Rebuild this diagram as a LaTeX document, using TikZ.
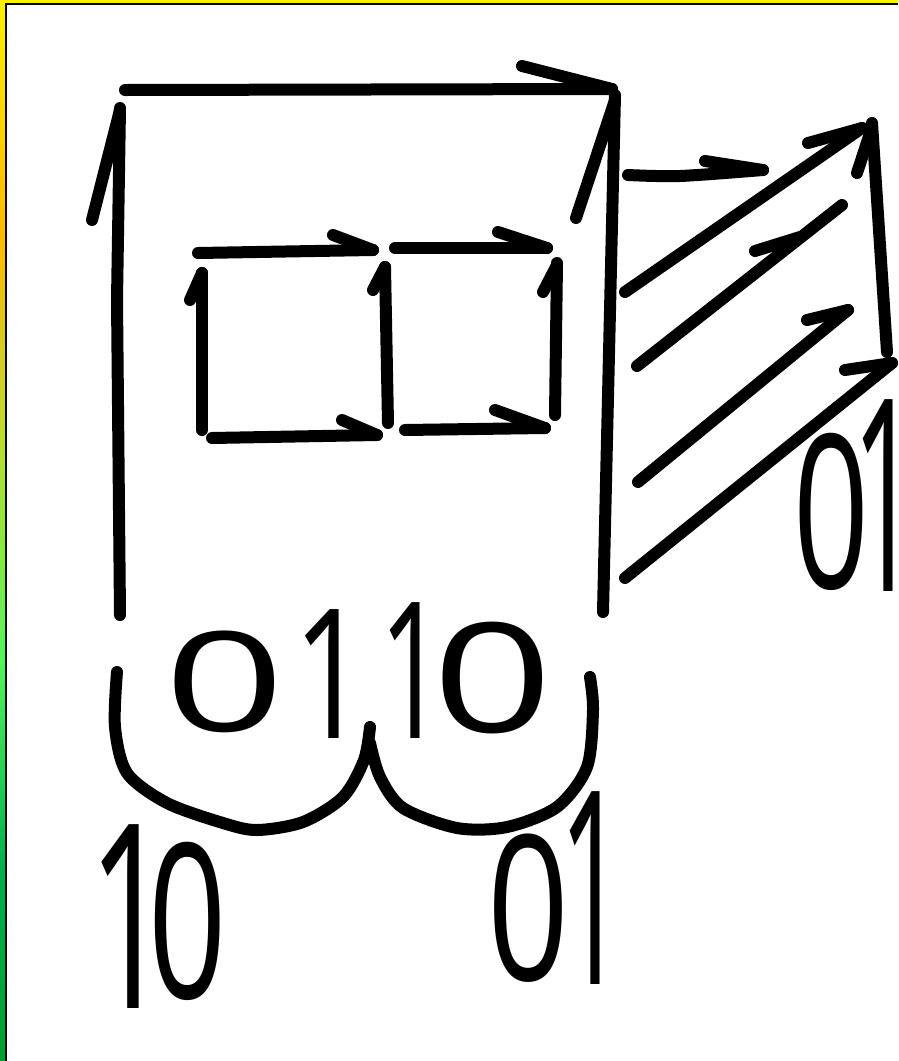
\documentclass[tikz,border=0pt]{standalone}
\usepackage{fontspec}
\usepackage{graphicx}
\newfontfamily\digitfont{Open Sans}
\newcommand\pd[5]{\rlap{\hspace*{#2pt}\raisebox{#3pt}{\scalebox{#4}[#5]{#1}}}}
\definecolor{bandA}{HTML}{FFF000}
\definecolor{bandB}{HTML}{FFBA00}
\definecolor{bandC}{HTML}{D6CB1E}
\definecolor{bandD}{HTML}{C4D92A}
\definecolor{bandE}{HTML}{52F55A}
\definecolor{bandF}{HTML}{00B04E}
\definecolor{bandG}{HTML}{00A030}
\begin{document}
\begin{tikzpicture}[x=1pt,y=-1pt,
  pen/.style={line width=12pt, line cap=round, line join=round, draw=black},
  digits/.style={inner sep=0pt, outer sep=0pt, anchor=base west, font=\digitfont\fontsize{140}{140}\selectfont}]
\useasboundingbox (0,0) rectangle (898,1061);
\fill[white] (0,0) rectangle (898,1061);
% frame
\fill[bandA] (0,0) rectangle (898,3.4);
\shade[top color=bandA, bottom color=bandB] (0,0) rectangle (5,230);
\shade[top color=bandB, bottom color=bandC] (0,230) rectangle (5,345);
\shade[top color=bandC, bottom color=bandD] (0,345) rectangle (5,420);
\shade[top color=bandD, bottom color=bandE] (0,420) rectangle (5,660);
\shade[top color=bandE, bottom color=bandF] (0,660) rectangle (5,870);
\shade[top color=bandF, bottom color=bandG] (0,870) rectangle (5,1061);
\fill[black] (5,3.4) rectangle (898,5.4);
\fill[black] (5,3.4) rectangle (7,1061);

% outer frame of the big box
\draw[pen] (125,90) -- (612,89);
\draw[pen] (522,66) -- (612,89);
\draw[pen] (120,108) -- (117,300) -- (120,615);
\draw[pen] (120,110) -- (92,220);
\draw[pen] (615,95) -- (603,612);
\draw[pen] (615,100) -- (576,218);

% inner squares
\draw[pen] (198,253) -- (373,250);
\draw[pen] (333,235) -- (373,250);
\draw[pen] (395,248) -- (547,248);
\draw[pen] (498,232) -- (547,248);
\draw[pen] (202,273) -- (202,430);
\draw[pen] (202,273) -- (190,300);
\draw[pen] (385,267) -- (388,423);
\draw[pen] (385,267) -- (373,290);
\draw[pen] (557,263) -- (555,415);
\draw[pen] (557,265) -- (543,292);
\draw[pen] (212,438) -- (377,435);
\draw[pen] (342,420) -- (377,435);
\draw[pen] (405,430) -- (545,428);
\draw[pen] (495,410) -- (545,428);

% right side
\draw[pen] plot[smooth] coordinates {(628,175) (680,176) (763,170)};
\draw[pen] (705,161) -- (763,170);
\draw[pen] (872,123) -- (887,352);
\draw[pen] (872,127) -- (857,173);
\draw[pen] (625,292) -- (862,128);
\draw[pen] (808,143) -- (862,128);
\draw[pen] (637,366) -- (842,205);
\draw[pen] (755,251) -- (800,237);
\draw[pen] (638,482) -- (848,310);
\draw[pen] (807,320) -- (848,310);
\draw[pen] (625,578) -- (892,363);
\draw[pen] (845,370) -- (892,363);

% bottom brace
\draw[pen] plot[smooth] coordinates {(117,672) (115,727) (127,773) (167,803) (223,823) (257,830) (303,822) (343,797) (364,760) (370,727)};
\draw[pen] plot[smooth] coordinates {(370,743) (380,777) (403,808) (457,828) (507,827) (557,807) (587,767) (593,710) (590,677)};

% digits
\node[digits] (n0110) at (160,738) {\pd{0}{4.6}{7}{1.506}{0.991}\pd{1}{133}{0}{0.933}{1.29}\pd{1}{219.6}{0}{0.829}{1.36}\pd{0}{272.6}{5.2}{1.506}{1.088}\hspace*{393pt}};
\node[digits] (n10) at (80,1008) {\pd{1}{8.5}{0}{1.036}{1.84}\pd{0}{68.2}{9.1}{0.979}{1.54}\hspace*{147pt}};
\node[digits] (n01b) at (480,984) {\pd{0}{7.9}{3.9}{1.024}{1.444}\pd{1}{79.6}{0}{0.829}{1.93}\hspace*{146pt}};
\node[digits] (n01r) at (785,591) {\pd{0}{8.5}{2.1}{0.949}{1.53}\pd{1}{67.6}{0}{0.829}{1.92}\hspace*{112pt}};
\end{tikzpicture}
\end{document}
